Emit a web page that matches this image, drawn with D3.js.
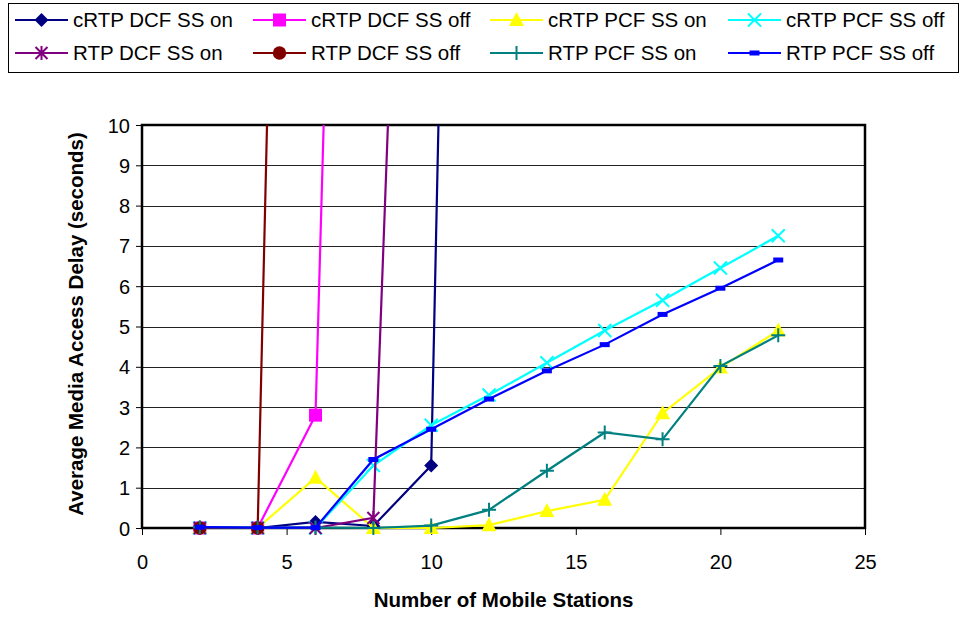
<!DOCTYPE html>
<html>
<head>
<meta charset="utf-8">
<script src="https://cdn.jsdelivr.net/npm/d3@7"></script>
<style>
  body { margin: 0; background: #fff; }
  svg { font-family: "Liberation Sans", Arial, sans-serif; }
</style>
</head>
<body>
<svg width="964" height="618"></svg>
<script>
// stations on the x axis
var stations = [2, 4, 6, 8, 10, 12, 14, 16, 18, 20, 22];

// delay values (seconds) per series, one per station; DCF series shoot off the top
var crtpDcfOn  = [0, 0, 0.15, 0.05, 1.55, 69];
var crtpDcfOff = [0, 0, 2.8, 54];
var crtpPcfOn  = [0, 0, 1.25, 0, 0, 0.07, 0.42, 0.7, 2.85, 3.98, 4.9];
var crtpPcfOff = [0, 0, 0, 1.55, 2.55, 3.3, 4.1, 4.9, 5.65, 6.45, 7.25];
var rtpDcfOn   = [0, 0, 0, 0.25, 39];
var rtpDcfOff  = [0, 0, 62];
var rtpPcfOn   = [0.02, 0.01, 0.01, 0, 0.06, 0.45, 1.42, 2.37, 2.2, 4.02, 4.78];
var rtpPcfOff  = [0.02, 0.01, 0.01, 1.7, 2.45, 3.2, 3.9, 4.55, 5.3, 5.95, 6.65];

var xTicks = [0, 5, 10, 15, 20, 25];
var yTicks = [0, 1, 2, 3, 4, 5, 6, 7, 8, 9, 10];

var series = [
  {name: "cRTP DCF SS on",  values: crtpDcfOn,  color: "#000080", marker: "diamond"},
  {name: "cRTP DCF SS off", values: crtpDcfOff, color: "#FF00FF", marker: "square"},
  {name: "cRTP PCF SS on",  values: crtpPcfOn,  color: "#FFFF00", marker: "triangle"},
  {name: "cRTP PCF SS off", values: crtpPcfOff, color: "#00FFFF", marker: "x"},
  {name: "RTP DCF SS on",   values: rtpDcfOn,   color: "#800080", marker: "star"},
  {name: "RTP DCF SS off",  values: rtpDcfOff,  color: "#800000", marker: "circle"},
  {name: "RTP PCF SS on",   values: rtpPcfOn,   color: "#008080", marker: "plus"},
  {name: "RTP PCF SS off",  values: rtpPcfOff,  color: "#0000FF", marker: "dash"}
];

var svg = d3.select("svg"),
    margin = {top: 125, right: 99, bottom: 90, left: 142},
    width = +svg.attr("width") - margin.left - margin.right,
    height = +svg.attr("height") - margin.top - margin.bottom;

var x = d3.scaleLinear().domain([0, 25]).range([0, width]);
var y = d3.scaleLinear().domain([0, 10]).range([height, 0]);

var g = svg.append("g")
    .attr("transform", "translate(" + margin.left + "," + margin.top + ")");

svg.append("defs").append("clipPath")
    .attr("id", "plot-clip")
  .append("rect")
    .attr("x", -10).attr("y", 0)
    .attr("width", width + 20).attr("height", height + 12);

// gridlines
g.selectAll(".grid")
  .data(yTicks.slice(1, -1))
  .enter().append("line")
    .attr("class", "grid")
    .attr("x1", 0).attr("x2", width)
    .attr("y1", function(d) { return Math.round(y(d)) + 0.5; })
    .attr("y2", function(d) { return Math.round(y(d)) + 0.5; })
    .attr("stroke", "#222")
    .attr("stroke-width", 1);

// y axis
var yAxis = g.append("g")
    .call(d3.axisLeft(y).tickValues(yTicks).tickSize(6).tickPadding(6).tickFormat(d3.format("d")));
yAxis.select(".domain").remove();
yAxis.selectAll("line").attr("stroke", "#000");
yAxis.selectAll("text")
    .attr("font-size", "20px")
    .attr("font-family", "'Liberation Sans', Arial, sans-serif")
    .attr("fill", "#000")
    .attr("dy", "0.35em");

// x axis
var xAxis = g.append("g")
    .attr("transform", "translate(0," + height + ")")
    .call(d3.axisBottom(x).tickValues(xTicks).tickSize(7).tickPadding(20));
xAxis.select(".domain").remove();
xAxis.selectAll("line").attr("stroke", "#000");
xAxis.selectAll("text")
    .attr("font-size", "20px")
    .attr("font-family", "'Liberation Sans', Arial, sans-serif")
    .attr("fill", "#000");

// plot frame
g.append("rect")
    .attr("x", 0).attr("y", 0)
    .attr("width", width).attr("height", height)
    .attr("fill", "none")
    .attr("stroke", "#000")
    .attr("stroke-width", 2.5);

// marker shapes, roughly Excel's
function markerPath(type) {
  if (type === "diamond") return "M0,-7L7,0L0,7L-7,0Z";
  if (type === "square") return "M-6.5,-6.5H6.5V6.5H-6.5Z";
  if (type === "triangle") return "M0,-8L7.5,6H-7.5Z";
  if (type === "x") return "M-6.5,-6.5L6.5,6.5M-6.5,6.5L6.5,-6.5";
  if (type === "star") return "M-6,-6L6,6M-6,6L6,-6M0,-7V7";
  if (type === "circle") return d3.symbol().type(d3.symbolCircle).size(140)();
  if (type === "plus") return "M-7,0H7M0,-7V7";
  return "M-5,-2.5H5V2.5H-5Z";
}
function isStroke(type) {
  return type === "x" || type === "star" || type === "plus";
}

var line = d3.line()
    .x(function(d) { return x(d.x); })
    .y(function(d) { return y(d.y); });

var plot = g.append("g").attr("clip-path", "url(#plot-clip)");

series.forEach(function(s) {
  var pts = s.values.map(function(v, i) { return {x: stations[i], y: v}; });
  var sg = plot.append("g");
  sg.append("path")
      .datum(pts)
      .attr("d", line)
      .attr("fill", "none")
      .attr("stroke", s.color)
      .attr("stroke-width", 2.2);
  sg.selectAll(".mark")
    .data(pts.filter(function(d) { return d.y <= 10; }))
    .enter().append("path")
      .attr("class", "mark")
      .attr("transform", function(d) { return "translate(" + x(d.x) + "," + y(d.y) + ")"; })
      .attr("d", markerPath(s.marker))
      .attr("fill", isStroke(s.marker) ? "none" : s.color)
      .attr("stroke", s.color)
      .attr("stroke-width", isStroke(s.marker) ? 2 : 0);
});

// axis titles
svg.append("text")
    .text("Number of Mobile Stations")
    .attr("x", margin.left + width / 2)
    .attr("y", 607)
    .style("text-anchor", "middle")
    .style("font-size", "20.5px")
    .style("font-weight", "bold");

svg.append("text")
    .text("Average Media Access Delay (seconds)")
    .attr("transform", "translate(83," + 324 + ") rotate(-90)")
    .style("text-anchor", "middle")
    .style("font-size", "20.5px")
    .style("font-weight", "bold");

// legend
var legend = svg.append("g");
legend.append("rect")
    .attr("x", 8.5).attr("y", 3.5)
    .attr("width", 950).attr("height", 69)
    .attr("fill", "#fff")
    .attr("stroke", "#000")
    .attr("stroke-width", 1);

var colX = [15, 253, 490, 728];
var rowY = [20, 53];

var item = legend.selectAll(".item")
  .data(series)
  .enter().append("g")
    .attr("class", "item")
    .attr("transform", function(d, i) { return "translate(" + colX[i % 4] + "," + rowY[Math.floor(i / 4)] + ")"; });

item.append("line")
    .attr("x1", 0).attr("x2", 53)
    .attr("stroke", function(d) { return d.color; })
    .attr("stroke-width", 2.2);

item.append("path")
    .attr("transform", "translate(26.5,0)")
    .attr("d", function(d) { return markerPath(d.marker); })
    .attr("fill", function(d) { return isStroke(d.marker) ? "none" : d.color; })
    .attr("stroke", function(d) { return d.color; })
    .attr("stroke-width", function(d) { return isStroke(d.marker) ? 2 : 0; });

item.append("text")
    .text(function(d) { return d.name; })
    .attr("x", 58)
    .attr("dy", "0.35em")
    .style("font-size", "20.5px");
</script>
</body>
</html>
